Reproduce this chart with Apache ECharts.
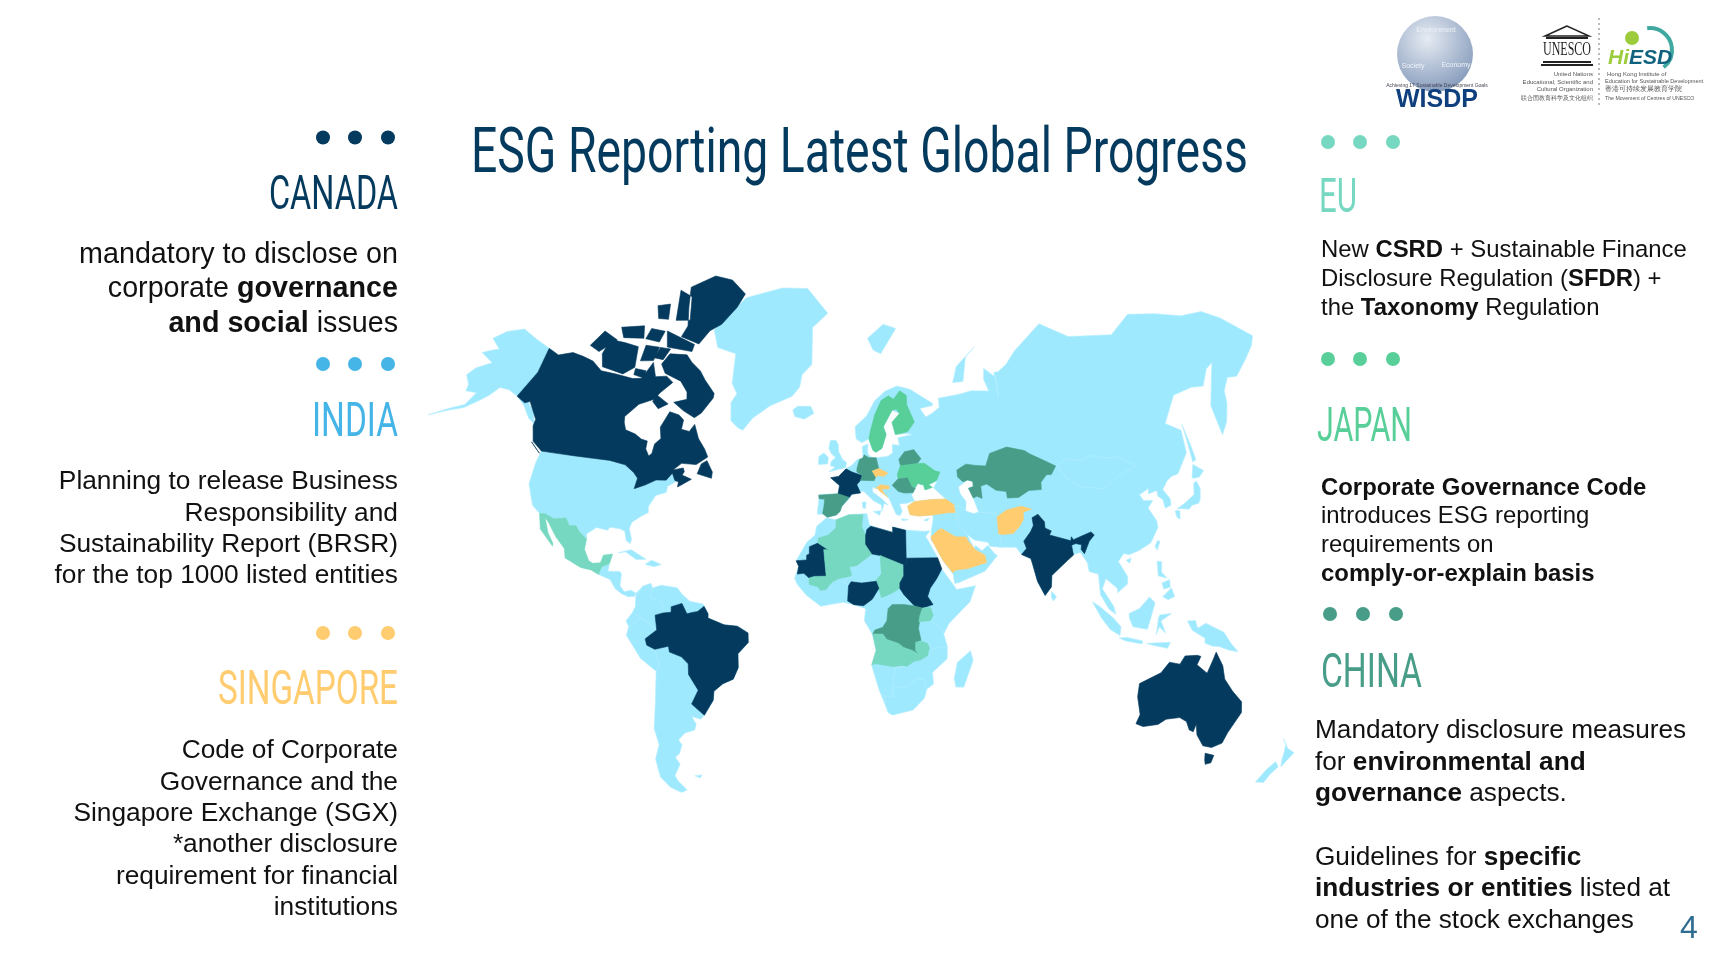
<!DOCTYPE html>
<html>
<head>
<meta charset="utf-8">
<title>ESG Reporting Latest Global Progress</title>
<style>
	html,body{margin:0;padding:0;background:#fff;}
	#chart{width:1715px;height:967px;}
</style>
<script src="https://cdn.jsdelivr.net/npm/echarts@6/dist/echarts.min.js"></script>
</head>
<body>
<div id="chart"></div>
<script>
//country groups, one list per colour of the legend panels
const canadaGroup=['Canada','France','Libya','Mauritania','Sudan','Nigeria','Brazil','India','Australia']
const singaporeGroup=['Turkey','Saudi Arabia','Afghanistan','Czechia','Croatia']
const euGroup=['Mexico','Algeria','Mali','Chad','Uganda','Angola','Zambia']
const japanGroup=['Sweden','Finland','Ukraine']
const chinaGroup=['Kazakhstan','Germany','Belarus','Romania','Spain','DR Congo']

//panel texts
const titleText='ESG Reporting Latest Global Progress'
const canadaLines=['mandatory to disclose on','corporate {b|governance}','{b|and social} issues']
const indiaLines=['Planning to release Business','Responsibility and','Sustainability Report (BRSR)','for the top 1000 listed entities']
const singaporeLines=['Code of Corporate','Governance and the','Singapore Exchange (SGX)','*another disclosure','requirement for financial','institutions']
const euLines=['New {b|CSRD} + Sustainable Finance','Disclosure Regulation ({b|SFDR}) +','the {b|Taxonomy} Regulation']
const japanLines=['{b|Corporate Governance Code}','introduces ESG reporting','requirements on','{b|comply-or-explain basis}']
const chinaLines=['Mandatory disclosure measures','for {b|environmental and}','{b|governance} aspects.','','Guidelines for {b|specific}','{b|industries or entities} listed at','one of the stock exchanges']

//outlines in longitude/latitude
const alaska=[[-141,69.6],[-148,70.4],[-156.5,71.3],[-162,70.2],[-166.5,68.4],[-162,67],[-164.5,66.5],[-168,65.6],[-161,64.5],[-165,63],[-166,61.5],[-162,60],[-162,58.7],[-157.5,58.8],[-160,56],[-165,54.6],[-172,52.3],[-165,54.2],[-160,55.3],[-155,57.5],[-152,59],[-150,60.8],[-146,60.8],[-141,60],[-137,58.5],[-133,56],[-130,55],[-132,57.5],[-137,60]]
const canadaMain=[[-141,69.6],[-136,68.9],[-130,70],[-125,69.8],[-120,69.4],[-115,68],[-108,68],[-100,67.8],[-96,68.2],[-94,71.5],[-90,69],[-85,69.5],[-81.5,68.5],[-86,66],[-87,64.5],[-92,63],[-94.5,60],[-94,58.7],[-92.5,57],[-88,56.3],[-85,55.3],[-82.3,55],[-82,53],[-80,51.3],[-79,52],[-79,54.5],[-77,56],[-78.5,58.7],[-77.5,62.4],[-73,62],[-70,61],[-69.5,58.8],[-66,58.5],[-64.5,60.3],[-61.5,57],[-58,54.5],[-56,52.5],[-60,50.2],[-66,50.2],[-69,48.2],[-65,49],[-64.3,48],[-65,47],[-61,46],[-64,44.5],[-66,43.5],[-66,45],[-67.5,45.3],[-69,47.3],[-71,45.2],[-75,45],[-79,43.3],[-83,42],[-82.5,45],[-84.5,46.5],[-88.5,48.3],[-95,49],[-102,49],[-110,49],[-116,49],[-123,49],[-127.5,51],[-130,54.5],[-130,56],[-135,59.5],[-137,59],[-141,60],[-141,65]]
const baffin=[[-61.5,66.5],[-64,63],[-66,61.8],[-72,63],[-78,64.5],[-73,65.5],[-74,67],[-78,69],[-86,70],[-90,71.5],[-89,73.5],[-81,73.9],[-77,72.8],[-71,71.5],[-67,70],[-61.5,67.5]]
const ellesmere=[[-61,82.3],[-70,83.2],[-80,83.2],[-92,81.8],[-90,80],[-87,78],[-88,76.5],[-78,76],[-75,78],[-70,79],[-64,81]]
const axelHeiberg=[[-97,81.3],[-90,81],[-87,78.7],[-94,78.3]]
const ellefRingnes=[[-106,79.3],[-100,79.8],[-98,78.2],[-103,78]]
const devon=[[-96,76.8],[-80,75.8],[-79.5,74.6],[-92,74.5]]
const victoria=[[-118,71],[-119,73.5],[-112,73.6],[-105,73.5],[-100.5,70],[-105,68.3],[-115,68.8]]
const banks=[[-125.5,71.8],[-124,74.5],[-116,73.7],[-120,71.2]]
const melville=[[-118,75.7],[-108,76.7],[-105,75],[-114,74.3]]
const bathurst=[[-104,76.6],[-97,76.7],[-97,75],[-104,75]]
const princeWales=[[-102,74],[-95.5,74.2],[-94.5,71.8],[-100,71.3]]
const somerset=[[-95,74.2],[-90,74.3],[-90.5,72.3],[-95,72.3]]
const kingWilliam=[[-100,69.8],[-95,69.8],[-95,68.3],[-100,68.6]]
const southampton=[[-87,65.5],[-80,64],[-83,62.7],[-87,64]]
const newfoundland=[[-59,47.7],[-53,46.7],[-53,48.5],[-56,51.5],[-58,50.5]]
const vancouver=[[-128,50.8],[-123.5,48.4],[-125,49.2]]
const usaMain=[[-123,49],[-116,49],[-110,49],[-102,49],[-95,49],[-88.5,48.3],[-84.5,46.5],[-82.5,45],[-83,42],[-79,43.3],[-75,45],[-71,45.2],[-69,47.3],[-67,45],[-70,43.5],[-70,41.7],[-74,40.5],[-76,37],[-75.5,35.3],[-78,34],[-81,32],[-81.5,30],[-80,26.5],[-80.5,25.2],[-82,26],[-83,29],[-85,29.7],[-89,30],[-89.5,29],[-94,29.6],[-97.2,27.5],[-97.2,25.9],[-100,28],[-102,29.8],[-104.5,29.6],[-106.5,31.8],[-111,31.3],[-114.8,32.5],[-117,32.5],[-120.5,34.5],[-122.5,37.5],[-124.3,40.3],[-124,46]]
const mexico=[[-117,32.5],[-114.8,32.5],[-111,31.3],[-106.5,31.8],[-104.5,29.6],[-102,29.8],[-100,28],[-97.2,25.9],[-97.8,22.5],[-96,19],[-94.5,18.2],[-91.5,18.5],[-90.5,21],[-87,21.5],[-88,18.5],[-89,17.9],[-91,17.2],[-92,14.6],[-95,16],[-99,16.7],[-105,19.5],[-105.5,22.5],[-109,26],[-112.5,30],[-114.5,31.5],[-112,27],[-110,24],[-110,23],[-112,25],[-115,28]]
const centralAmerica=[[-92,14.6],[-91,17.2],[-89,17.9],[-88,18.5],[-88.5,15.8],[-84,15.8],[-83.3,14.9],[-83.7,11],[-82,9],[-79.5,9.6],[-77.5,8.6],[-78,7.5],[-80.5,7.3],[-83,8.3],[-85.5,10],[-87.5,13]]
const cuba=[[-85,22],[-80,23.2],[-74.2,20.2],[-78,20],[-82,22.4]]
const hispaniola=[[-74.5,18.5],[-72,20],[-68.4,18.6],[-71,17.8]]
const southAmerica=[[-77.5,8.6],[-75,11],[-72,12],[-71.5,10.5],[-68,11.5],[-62,10.7],[-60,8.4],[-57,6],[-52,5],[-50,1.5],[-50,0],[-44,-2.5],[-39,-3],[-35,-5.5],[-35,-9],[-39,-13],[-39,-18],[-41,-22],[-45,-23.5],[-48.5,-26],[-49,-29],[-53.3,-33.8],[-55,-35],[-58.3,-34],[-57,-36.5],[-58,-38.3],[-62,-39],[-65,-41],[-64,-42.5],[-65.5,-45],[-67.5,-46],[-66,-48],[-69,-51],[-68.3,-52.5],[-65.5,-55],[-68,-55.5],[-72,-54],[-75,-51],[-75.5,-46],[-73,-42],[-73.7,-37],[-71.5,-30],[-70.3,-18.5],[-76,-14],[-81,-6],[-80,-3],[-81,-1],[-78.5,2],[-77.5,4],[-77.5,7.5]]
const brazil=[[-51.6,4.2],[-54,2.3],[-56,2],[-58,1.5],[-60,5.2],[-64,4],[-64,2],[-67,1.8],[-70,1],[-69.5,-4.2],[-74,-7.3],[-73.5,-9.5],[-70.5,-11],[-65.3,-10],[-65,-12],[-60.5,-13.8],[-58,-16.3],[-58,-20],[-54.5,-25.5],[-57.5,-30],[-53.3,-33.8],[-49,-29],[-48.5,-26],[-45,-23.5],[-41,-22],[-39,-18],[-39,-13],[-35,-9],[-35,-5.5],[-39,-3],[-44,-2.5],[-50,0],[-50,1.5]]
const falklands=[[-61,-51.5],[-58,-51.4],[-59,-52.2]]
const greenland=[[-73,78.2],[-68,76],[-58,75.5],[-54,70],[-51,68],[-53,66],[-50,62],[-46,60.5],[-43.5,60],[-41,63],[-35,66],[-25,68.5],[-22,70.5],[-22,73],[-18,75],[-20,80],[-12,81.5],[-25,83.5],[-40,83.3],[-60,82],[-68,80]]
const iceland=[[-24,65.5],[-22,66.4],[-16,66.5],[-14,65],[-18,63.5],[-22.5,64]]
const africa=[[-5.9,35.8],[-2,35.2],[3,36.9],[10,37.3],[11,33.5],[15,32.3],[20,31],[20,32.8],[25,31.7],[32,31.2],[34.3,31.3],[32.5,29.5],[34,27],[37,21.5],[38.5,18],[43,12],[44,10.5],[51.2,11.8],[49,6],[41,-2],[39,-6],[40.5,-11],[40.5,-15],[35,-20],[35.5,-24],[32.8,-26],[32,-29],[28,-33],[20,-34.8],[18.3,-34],[15,-27],[12,-18],[13.5,-12],[12,-6],[9,-1],[9.5,3.5],[5,5],[1,5.9],[-4,5],[-7.5,4.4],[-13,8.5],[-16.5,12.5],[-17.5,14.7],[-16,19],[-17,21],[-13,27.5],[-10,30],[-9.5,33]]
const mauritania=[[-17,21],[-13,21.3],[-13,23],[-12,23.4],[-12,26],[-8.7,27.3],[-4.8,25],[-6.5,25],[-5.5,15.5],[-10,15.4],[-12,14.8],[-14,16.5],[-16.5,16.2],[-16,19]]
const algeria=[[-8.7,27.3],[-8.7,29],[-5,30],[-2,32.5],[-2,35.2],[3,36.9],[8.5,36.9],[8,33],[9.5,30],[9.5,27],[12,23.5],[6,19.3],[3.3,19],[1,21],[-4.8,25]]
const mali=[[-12,14.8],[-10,15.4],[-5.5,15.5],[-6.5,25],[-4.8,25],[1,21],[3.3,19],[4.2,16],[3.5,15.4],[1,15],[-1,14.5],[-3,13.5],[-4.5,12],[-5.5,10.5],[-7.8,10.3],[-8.5,11.5],[-11,12.2],[-12,12.5]]
const libya=[[9.5,30],[10,32],[11.5,33.1],[15,32.3],[20,31],[20,32.8],[25,31.7],[25,20],[24,19.5],[15,23],[12,23.5],[9.5,27]]
const chad=[[15,23],[24,19.5],[24,15.7],[22.5,13],[22.5,11],[19,9],[15.5,7.6],[14,12.5],[13.5,14],[15.5,16.5]]
const sudan=[[25,22],[37,22],[38.5,18],[36.5,14.5],[34,11],[33,8],[35,5],[31,3.7],[28,4.5],[24,8.7],[22.5,11],[22.5,13],[24,15.7],[24,19.5],[25,20]]
const nigeria=[[2.7,6.4],[3,12],[4,13.5],[8,13],[13.5,13.7],[14.5,11],[12,7],[8.7,4.6],[5,5]]
const drCongo=[[12.2,-6],[13,-4.5],[16,-3.5],[17.5,-1],[18,3.5],[19.5,5],[24,5],[28,4.5],[31,3.7],[30,0],[29.5,-4],[30.5,-8.3],[28.5,-9],[28.5,-12],[29.8,-13.4],[27,-12],[23,-11],[22,-9.5],[17.5,-8],[16,-6]]
const angola=[[12.2,-6],[16,-6],[17.5,-8],[22,-9.5],[24,-11],[22,-13],[22,-16.5],[23.3,-17.6],[20,-18],[13.5,-17],[11.8,-17.3],[13.5,-12]]
const zambia=[[22,-13],[24,-11],[27,-12],[29.8,-13.4],[28.5,-12],[28.5,-9],[31,-8.6],[33,-9.5],[33.7,-11],[33,-14],[30.3,-15.5],[28,-16],[25.3,-17.8],[23.3,-17.6],[22,-16.5]]
const uganda=[[29.6,-1.4],[33.9,-1],[35,1],[34,4],[31,3.7],[30,1]]
const madagascar=[[49.3,-12],[50.4,-15.5],[47,-25],[44,-25],[43.3,-22],[44.4,-16.3]]
const eurasia=[[-9.5,37],[-9,43.2],[-1.5,43.5],[-1,46],[-4.7,48.3],[-1.5,48.7],[1.5,50.9],[4,52],[6,53.5],[8.5,54],[8.2,57],[10.5,57.7],[10.5,55],[12,54.2],[14,54],[19,54.4],[21,55.3],[21,57.5],[24,57.2],[23.5,59.2],[28,59.7],[30,60],[25,60.2],[22.5,60],[21.5,63],[25.3,65],[22,65.8],[17.5,62],[18.5,60],[16.5,56.5],[14,55.5],[12.7,56],[11,59],[8,58],[5.5,59],[5,62],[10,64.5],[14,68],[19,70],[25,71],[31,70.2],[41,67],[41,66.5],[35,66],[37,64],[40,64.7],[44,66],[44,68],[54,68.5],[60,69],[68,68.5],[67,71],[69,73],[73,71],[72,67],[73,72],[75,72],[80,73],[87,75],[104,77.7],[113,74],[129,71],[140,72.5],[150,71],[160,69.7],[170,70],[178,69],[190,66],[186,64.5],[179,62.5],[170,60],[166,60],[163,58],[162.5,56],[160,53],[156.7,51],[155.7,56],[160,60.5],[164,62.5],[160,61.7],[155,59.3],[150,59.5],[142,59],[135.5,54.7],[141,53],[140.5,48.5],[135,43.5],[132,43],[130,42],[127.5,39.8],[129.4,37],[129,35.2],[126.5,34.5],[126.5,37],[125,38],[125,39.7],[121.5,39],[122,40.5],[118,39],[119,37.3],[122.5,37],[120,35],[122,31],[121.7,29],[118.5,24.5],[114,22.3],[110,21],[108,21.5],[105.8,19],[109,14],[109,11.5],[105,8.6],[105,10],[102.5,12],[100.8,13.4],[99.3,10],[103.3,4],[104,1.3],[101.5,3],[98.5,8],[98,15],[94.5,16],[94,19],[91.5,22.5],[88,21.7],[86.5,20],[80.3,15],[80,11],[77.5,8],[74.8,13],[73,19.5],[72.5,21],[69,22.5],[67,25],[61.5,25.2],[57,25.7],[56.5,27],[51,28],[48.5,30],[51,25],[51.5,26],[54,24.2],[56.2,26],[58.8,23],[59.8,22.4],[55,17],[45,13],[43.3,12.7],[42.8,16],[39,21],[35,28],[34.5,28],[34.9,31.5],[35.9,35],[36,36.6],[30.5,36.3],[27,36.8],[26.2,39.5],[29,41],[36,41.5],[41.5,41.5],[37,45],[38.5,47],[35,46],[36.5,45.2],[33.5,44.5],[33,46],[30.7,46.5],[28,43],[29,41.2],[26,40.5],[23,40.3],[24,38],[23,36.5],[21.5,37],[19.5,41],[19,42],[14.5,45],[12.3,45.5],[12.5,44],[16,42],[18.5,40],[16.9,40.5],[16,38],[15.8,40],[12.5,41.5],[10.5,43],[8.7,44.4],[4,43.4],[3,42],[0,39.5],[-0.5,38],[-2,36.8],[-5.5,36],[-7,37]]
const caspian=[[47,45],[47.5,43],[49.5,40.5],[49,37.5],[52,36.6],[54,37],[53,40],[52.5,41.5],[51,44.5],[53,45],[53,46.5],[51,47]]
const france=[[-1.5,43.5],[-1,46],[-4.7,48.3],[-1.5,48.7],[1.5,50.9],[4,50],[8.2,49],[7.5,47.6],[6,46.3],[7.5,43.8],[4,43.4],[3,42.4]]
const spain=[[-9.3,43],[-1.5,43.5],[3,42.4],[0,39.5],[-0.5,38],[-2,36.8],[-5.5,36],[-7.4,37.2],[-7,39.5],[-6.8,41.8],[-9,41.9]]
const germany=[[6,51],[7,53.5],[8.5,54],[9,54.8],[11,54],[14,54],[15,51],[12.3,50.3],[13.7,48.6],[13,47.5],[7.5,47.6],[8.2,49],[6,50]]
const czechia=[[12.3,50.3],[15,51],[18.7,49.7],[17,48.7],[15,49],[13.7,48.6]]
const croatia=[[13.6,45.2],[15.5,46.3],[19,45.9],[19,45],[16,45],[17.5,43],[18.5,42.5],[15,44.5],[14.5,45.2]]
const belarus=[[23.5,53.5],[26,55.5],[30,56],[32.7,53.5],[31,52.2],[24,51.7]]
const ukraine=[[24,51.7],[31,52.2],[34,52.2],[38,50],[40,49.6],[38.5,47.3],[35,46],[36.5,45.2],[33.5,44.5],[33,46],[30.7,46.5],[29.6,45.3],[28.2,45.5],[26.6,48.2],[22.8,48.2],[22.5,49.2]]
const romania=[[20.3,46.1],[22.8,48],[26.6,48.2],[28.2,45.5],[29.6,45.1],[28.6,43.7],[25,43.7],[22.7,44.2]]
const sweden=[[11,59],[12.7,56],[14,55.5],[16.5,56.5],[18.5,60],[17.5,62],[22,65.8],[24,66],[23.5,68],[20.5,69],[17,68],[14,65],[12,61.5]]
const finland=[[22.5,60],[25,60.2],[28,60.7],[31.5,62.9],[29,66.9],[29,69],[26,70],[23,68.3],[24,66],[25.3,65],[21.5,63]]
const kazakhstan=[[47,50],[51,51.5],[55,51],[59,50.7],[61.5,54],[69,55.3],[76,54],[78,53],[83,51],[87.3,49.2],[85,47],[83,47],[80.3,45],[80,42.9],[75,42.9],[70.5,41],[66,41],[66,43],[62,43.5],[58.5,45.5],[56,45],[56,41.3],[54,42],[52.5,41.5],[51,44.5],[53,45],[53,46.5],[51,47],[49,46.5],[47,48]]
const india=[[74.5,34.5],[77,35.5],[79,33],[78.8,31],[81,30],[80,28.7],[88,26.5],[88.2,27.8],[89,26.8],[92,27.8],[96,29],[97,28],[95,26],[94,24],[93,22],[91.8,23.5],[92,25],[89.8,25.5],[88.2,25],[88.8,21.7],[86.5,20],[80.3,15],[80,11],[77.5,8],[74.8,13],[73,19.5],[72.5,21],[69,22.5],[71,24.5],[70,27],[73,30],[74.5,32]]
const turkey=[[26.2,39.5],[29,41],[36,41.5],[41.5,41.5],[44.5,39.7],[44.8,37.2],[42,37.2],[36,36.6],[30.5,36.3],[27,36.8]]
const saudiArabia=[[34.6,29.3],[37.5,31.5],[39,32],[44,29.2],[48,29],[48.8,27.5],[51,25],[51.5,24.5],[55,22.7],[55.6,20],[52,19],[48.5,18],[43.5,17.5],[42.8,16.5],[39,21],[35,28]]
const afghanistan=[[60.7,29.8],[61,35.3],[65,37.3],[71,38.3],[74.8,37.2],[71.5,36.4],[71,34],[69,31.8],[66.3,29.7],[62,29.5]]
const britain=[[-5.5,50],[1.3,51.2],[1.7,52.7],[0,53.5],[-1.7,55.5],[-2,57.5],[-3.2,58.6],[-5.5,58.5],[-6,56.5],[-4.8,55],[-3,54],[-4.7,53],[-5,51.7],[-3,51.3]]
const ireland=[[-10,52],[-6.2,52.2],[-6,54],[-8,55.2],[-10,54.2]]
const svalbard=[[11,79],[20,80.5],[27,80],[18,77],[14,77.5]]
const novayaZemlya=[[52,71],[56,74],[68,77],[62,75.5],[57,71]]
const sicily=[[12.5,38],[15.6,38.2],[15,36.7]]
const sardinia=[[8.2,41],[9.7,41],[9.5,39],[8.5,39]]
const crete=[[23.5,35.5],[26.3,35.2],[24,34.9]]
const cyprus=[[32.3,35],[34.5,35.6],[33.5,34.6]]
const sriLanka=[[80,9.5],[81.8,7.5],[80.5,6],[79.8,7.5]]
const sakhalin=[[142,54],[143,50],[143.5,46.5],[142,46],[142,50]]
const hokkaido=[[140,42],[141.8,45.4],[145.3,43.5],[143,42],[141,41.8]]
const honshu=[[130.9,34],[135,35.6],[139,37.5],[140,40.5],[141.4,41],[142,39],[140.8,36],[139.8,35],[137,34.6],[135.5,33.6],[132,34]]
const kyushu=[[130,33.5],[131.8,33.5],[131,31],[130,31.5]]
const taiwan=[[121,25],[122,24.8],[120.8,22],[120,23.3]]
const hainan=[[108.8,19.3],[110.8,20],[110,18.3]]
const sumatra=[[95.3,5.6],[98,4],[103,0],[106,-3],[105.8,-6],[102,-4],[98.5,0]]
const java=[[105.5,-6.8],[108.5,-6.6],[114.5,-7.7],[114.3,-8.7],[108,-7.8]]
const lesserSunda=[[116,-8.5],[125,-8],[124,-10],[118,-9]]
const borneo=[[109,1.5],[113,3.2],[117,7],[119,5],[117.5,1],[116,-3.8],[110.5,-3],[109,0]]
const sulawesi=[[119.5,-5.5],[120,0],[120.5,1],[125,1.5],[121,-1],[123,-5],[120.5,-3]]
const luzon=[[120.5,18.5],[122.3,18.3],[122,15],[124,13],[120.7,13.8]]
const mindanao=[[122,7],[125.5,9.8],[126.5,7],[124,6]]
const visayas=[[122,11.5],[125,12.5],[125,10],[122.5,9.5]]
const newGuinea=[[131,-1],[134,-0.8],[135,-3.3],[138,-1.7],[145,-4.5],[148,-8],[150.8,-10.5],[147,-10],[143.5,-9],[141,-9],[138,-8],[138,-6.5],[133,-4]]
const australia=[[114,-21.8],[122,-18],[125,-14.5],[129,-15],[130.8,-12.3],[135.5,-12],[136.8,-12.3],[135.5,-15],[139.5,-17.5],[141.6,-13],[142.5,-10.8],[145.3,-15],[146.3,-19],[149.5,-22.5],[153.2,-25.5],[153.6,-28.6],[150.9,-34.5],[150,-37.5],[146.5,-39],[143,-38.8],[139.5,-36],[138,-33],[137.7,-35.2],[136,-34.8],[134,-32.5],[131,-31.5],[126,-32.3],[123.5,-34],[118,-35],[115,-34.3],[115.7,-31.5],[113.5,-26]]
const tasmania=[[144.7,-40.7],[148.3,-41],[148,-43],[146,-43.6],[145.3,-42.5]]
const nzNorth=[[172.7,-34.5],[175.5,-36.8],[178.5,-37.7],[177,-39.5],[175.3,-41.6],[174.8,-39.8],[174.7,-38],[174.3,-36]]
const nzSouth=[[172.7,-40.5],[174.3,-41.7],[172,-44],[170.7,-46],[167.5,-46.2],[170,-43]]
//plain background countries, only here for their faint borders
const mongolia=[[87.8,49.2],[92,50.8],[98,50],[102,51],[107,50],[113,49.8],[119.5,47],[112,45],[105,41.7],[96,42.7],[91,45.5]]
const egypt=[[25,31.7],[32,31.2],[34.3,31.3],[32.5,29.5],[34,27],[37,22],[25,22]]
const niger=[[3.3,19],[6,19.3],[12,23.5],[15,23],[15.5,16.5],[13.5,14],[13.5,13.7],[8,13],[4,13.5],[3,12],[1,13.5],[3.5,15.4],[4.2,16]]
const namibia=[[11.8,-17.3],[13.5,-17],[20,-18],[25,-17.8],[21,-18.5],[20,-22],[20,-28.5],[16.5,-28.5],[15,-27],[12,-18]]
const southAfrica=[[16.5,-28.5],[20,-28.5],[20,-25],[25,-25.5],[29,-22.3],[31.5,-22.5],[32.8,-26],[32,-29],[28,-33],[20,-34.8],[18.3,-34]]
const tanzania=[[29.6,-1.4],[33.9,-1],[39,-4.7],[39,-6],[40.5,-10.5],[35,-11.5],[33,-9.5],[31,-8.6],[30.5,-8.3],[29.5,-4]]
const iran=[[44.8,39.5],[48,38.5],[49,37.5],[52,36.6],[54,37],[61,36.5],[61,31.5],[61.5,25.2],[57,25.7],[56.5,27],[51,28],[48.5,30],[46,33],[44.8,37.2]]
const colombia=[[-72,12],[-71.5,10.5],[-72,7],[-67.5,6],[-67,1.8],[-70,1],[-69.5,-4.2],[-75,0],[-78.5,2],[-77.5,4],[-77.5,7.5],[-75,11]]
const peru=[[-75,0],[-69.5,-4.2],[-74,-7.3],[-73.5,-9.5],[-70.5,-11],[-69,-17],[-70.3,-18.5],[-76,-14],[-81,-6],[-80,-3]]

function feature(name,...rings){
	return {
		type:'Feature',
		properties:{name:name},
		geometry:{type:'MultiPolygon',coordinates:rings.map(r=>[r.concat([r[0]])])}
	}
}
var eurasiaFeature=feature('Eurasia',eurasia)
eurasiaFeature.geometry.coordinates[0].push(caspian.concat([caspian[0]]))

//order matters: continents first, countries painted on top of them
const worldMap={
	type:'FeatureCollection',
	features:[
		feature('Alaska',alaska),feature('USA',usaMain),feature('Central America',centralAmerica,cuba,hispaniola),
		feature('South America',southAmerica,falklands),feature('Greenland',greenland),feature('Iceland',iceland),
		feature('Africa',africa),feature('Madagascar',madagascar),eurasiaFeature,
		feature('UK',britain),feature('Ireland',ireland),feature('Svalbard',svalbard),feature('Novaya Zemlya',novayaZemlya),
		feature('Med islands',sicily,sardinia,crete,cyprus),feature('Sri Lanka',sriLanka),feature('Sakhalin',sakhalin),
		feature('Japan',hokkaido,honshu,kyushu),feature('Taiwan',taiwan),feature('Hainan',hainan),
		feature('Indonesia',sumatra,java,lesserSunda,borneo,sulawesi),feature('Philippines',luzon,mindanao,visayas),
		feature('New Guinea',newGuinea),feature('New Zealand',nzNorth,nzSouth),
		feature('Mongolia',mongolia),feature('Egypt',egypt),feature('Niger',niger),feature('Namibia',namibia),
		feature('South Africa',southAfrica),feature('Tanzania',tanzania),feature('Iran',iran),feature('Colombia',colombia),feature('Peru',peru),
		feature('Canada',canadaMain,baffin,ellesmere,axelHeiberg,ellefRingnes,devon,victoria,banks,melville,bathurst,princeWales,somerset,kingWilliam,southampton,newfoundland,vancouver),
		feature('Mexico',mexico),feature('Brazil',brazil),feature('Mauritania',mauritania),feature('Algeria',algeria),
		feature('Mali',mali),feature('Libya',libya),feature('Chad',chad),feature('Sudan',sudan),feature('Nigeria',nigeria),
		feature('DR Congo',drCongo),feature('Angola',angola),feature('Zambia',zambia),feature('Uganda',uganda),
		feature('France',france),feature('Spain',spain),feature('Germany',germany),feature('Czechia',czechia),feature('Croatia',croatia),
		feature('Belarus',belarus),feature('Ukraine',ukraine),feature('Romania',romania),feature('Sweden',sweden),feature('Finland',finland),
		feature('Kazakhstan',kazakhstan),feature('India',india),feature('Turkey',turkey),feature('Saudi Arabia',saudiArabia),feature('Afghanistan',afghanistan),
		feature('Australia',australia,tasmania)
	]
}

const NAVY='#033a5e',BLUE='#45b5e8',YELLOW='#ffcc70',MINT='#76d8c0',GREEN='#58cf98',TEAL='#479d88',LAND='#9fe9ff'
const bodyFont='"Liberation Sans",Arial,sans-serif'
const headFont='Roboto,"Liberation Sans",sans-serif'

function paint(names,color){
	return names.map(n=>({name:n,itemStyle:{areaColor:color,borderColor:color}}))
}
var regionData=[].concat(paint(canadaGroup,NAVY),paint(singaporeGroup,YELLOW),paint(euGroup,MINT),paint(japanGroup,GREEN),paint(chinaGroup,TEAL))

//the source map's projection: Miller latitudes, meridians that close in towards the pole, parallels that bend up at the edges
const CENTER_LON=8.5
const widthLat=[0,28,50,60,66,70,83,90]
const widthFactor=[1,0.986,0.92,0.873,0.81,0.79,0.63,0.55]
function lookupWidth(lat){
	var a=Math.abs(lat),i=1
	while(i<widthLat.length-1&&widthLat[i]<a)i++
	var t=(a-widthLat[i-1])/(widthLat[i]-widthLat[i-1])
	return widthFactor[i-1]+t*(widthFactor[i]-widthFactor[i-1])
}
function sourceProject(p){
	var lam=p[0]-CENTER_LON,lat=p[1]
	var phi=lat*Math.PI/180
	var miller=1.25*Math.log(Math.tan(Math.PI/4+0.4*phi))
	var bend=(lat>0?0.65:0.6)*lat*Math.pow(lam/150,2)
	//east siberia sits higher than the curve, and so do the far north of Canada and Greenland
	var ramp=Math.min(1,Math.max(0,(lat-50)/20))
	bend+=32*ramp*Math.exp(-Math.pow((lam-145)/40,2))
	if(lat>75&&lam<50)bend+=24*Math.pow((lat-75)/8.5,2)
	return [863+2.65*lam*lookupWidth(lat),618-153*miller-bend]
}
//bounding box of the projected land, so the layout keeps the scale above
var minX=1e9,maxX=-1e9,minY=1e9,maxY=-1e9
worldMap.features.forEach(function(f){
	f.geometry.coordinates.forEach(function(poly){
		poly[0].forEach(function(pt){
			var q=sourceProject(pt)
			minX=Math.min(minX,q[0]);maxX=Math.max(maxX,q[0])
			minY=Math.min(minY,q[1]);maxY=Math.max(maxY,q[1])
		})
	})
})

var measure=document.createElement('canvas').getContext('2d')
function fitScale(text,font,target){
	measure.font=font
	return target/measure.measureText(text).width
}

function dots(xs,y,color){
	return xs.map(x=>({type:'circle',x:x,y:y,silent:true,shape:{r:7},style:{fill:color}}))
}
function heading(text,x,y,width,align,color){
	return {
		type:'text',x:x,y:y,silent:true,
		scaleX:fitScale(text,'49px '+headFont,width),
		style:{text:text,fontFamily:headFont,fontSize:49,fill:color,align:align,verticalAlign:'middle'}
	}
}
function body(lines,x,y,lineH,size,align){
	return lines.filter(l=>l).map(function(l){
		var i=lines.indexOf(l)
		return {
			type:'text',x:x,y:y+i*lineH,silent:true,
			style:{
				text:l,fontFamily:bodyFont,fontSize:size,fill:'#111',align:align,verticalAlign:'middle',
				rich:{b:{fontFamily:bodyFont,fontSize:size,fontWeight:'bold',fill:'#111'}}
			}
		}
	})
}
function smallText(text,x,y,size,color,align,weight){
	return {type:'text',x:x,y:y,silent:true,style:{text:text,fontFamily:bodyFont,fontSize:size,fill:color,align:align||'center',verticalAlign:'middle',fontWeight:weight||'normal'}}
}

function logos(){
	var g=[]
	g.push({type:'circle',x:1435,y:54,silent:true,shape:{r:38},style:{fill:{type:'radial',x:0.4,y:0.3,r:0.8,colorStops:[{offset:0,color:'#e6ebf3'},{offset:1,color:'#7d94b6'}]}}})
	g.push(smallText('Environment',1436,30,7,'#eef2f7'))
	g.push(smallText('Society',1413,66,7,'#eef2f7'))
	g.push(smallText('Economy',1456,65,7,'#eef2f7'))
	g.push(smallText('Achieving 17 Sustainable Development Goals',1437,86,5,'#445'))
	g.push(smallText('WISDP',1437,100,25,'#0f3f7c','center','bold'))
	//unesco temple
	g.push({type:'polygon',silent:true,shape:{points:[[1567,26],[1545,36],[1589,36]]},style:{fill:'none',stroke:'#222',lineWidth:1.5}})
	g.push({type:'rect',silent:true,shape:{x:1546,y:37,width:42,height:2},style:{fill:'#222'}})
	g.push({type:'text',x:1567,y:50,silent:true,scaleX:0.8,scaleY:1.3,style:{text:'UNESCO',fontFamily:'"Liberation Serif",serif',fontSize:15,fill:'#222',align:'center',verticalAlign:'middle'}})
	g.push({type:'rect',silent:true,shape:{x:1543,y:61,width:48,height:2},style:{fill:'#222'}})
	g.push({type:'rect',silent:true,shape:{x:1541,y:64,width:52,height:2},style:{fill:'#222'}})
	g.push(smallText('United Nations',1593,74,6,'#555','right'))
	g.push(smallText('Educational, Scientific and',1593,82,6,'#555','right'))
	g.push(smallText('Cultural Organization',1593,89,6,'#555','right'))
	g.push(smallText('联合国教育科学及文化组织',1593,98,6,'#555','right'))
	g.push({type:'line',silent:true,shape:{x1:1599,y1:18,x2:1599,y2:108},style:{stroke:'#777',lineWidth:1,lineDash:[2,3]}})
	g.push({type:'arc',silent:true,shape:{cx:1650,cy:50,r:22,startAngle:-1.7,endAngle:0.9},style:{fill:'none',stroke:'#3fa8a0',lineWidth:4}})
	g.push({type:'circle',x:1632,y:38,silent:true,shape:{r:7},style:{fill:'#9ccc3c'}})
	g.push({type:'text',x:1608,y:58,silent:true,style:{text:'{h|Hi}{e|ESD}',align:'left',verticalAlign:'middle',rich:{h:{fontFamily:bodyFont,fontSize:21,fontWeight:'bold',fontStyle:'italic',fill:'#9ccc3c'},e:{fontFamily:bodyFont,fontSize:21,fontWeight:'bold',fontStyle:'italic',fill:'#11627e'}}}})
	g.push(smallText('Hong Kong Institute of',1607,74,6,'#555','left'))
	g.push(smallText('Education for Sustainable Development',1605,81,5.6,'#555','left'))
	g.push(smallText('香港可持续发展教育学院',1605,89,6.6,'#555','left'))
	g.push(smallText('The Movement of Centres of UNESCO',1605,99,5.2,'#555','left'))
	return g
}

echarts.registerMap('world',worldMap)
var myChart=echarts.init(document.getElementById('chart'))

var graphics=[].concat(
	{type:'text',x:471,y:156,silent:true,scaleX:fitScale(titleText,'63px '+headFont,777),style:{text:titleText,fontFamily:headFont,fontSize:63,fill:NAVY,align:'left',verticalAlign:'middle'}},
	dots([323,355,388],137.5,NAVY),heading('CANADA',398,197,129,'right',NAVY),body(canadaLines,398,255,34.5,28.7,'right'),
	dots([323,355,388],364,BLUE),heading('INDIA',398,423.5,86,'right',BLUE),body(indiaLines,398,482,31.4,26.3,'right'),
	dots([323,355,388],633,YELLOW),heading('SINGAPORE',398,692,180,'right',YELLOW),body(singaporeLines,398,751,31.4,26.3,'right'),
	dots([1328,1360,1393],142,MINT),heading('EU',1319,200,38,'left',MINT),body(euLines,1321,250,29,23.9,'left'),
	dots([1328,1360,1393],359,GREEN),heading('JAPAN',1317,429,95,'left',GREEN),body(japanLines,1321,488,28.8,23.9,'left'),
	dots([1330,1363,1396],614,TEAL),heading('CHINA',1321,675,101,'left',TEAL),body(chinaLines,1315,731,31.6,26.2,'left'),
	smallText('4',1689,929,32,'#2f6c92'),
	logos()
)

var option={
	backgroundColor:'#fff',
	animation:false,
	graphic:{elements:graphics},
	series:[{
		type:'map',
		map:'world',
		silent:true,
		roam:false,
		projection:{project:sourceProject,unproject:function(p){return p}},
		layoutCenter:[(minX+maxX)/2,(minY+maxY)/2],
		layoutSize:Math.max(maxX-minX,maxY-minY),
		label:{show:false},
		emphasis:{disabled:true},
		select:{disabled:true},
		itemStyle:{areaColor:LAND,borderColor:'#b6eeff',borderWidth:0.6},
		data:regionData
	}]
}
myChart.setOption(option)
</script>
</body>
</html>
